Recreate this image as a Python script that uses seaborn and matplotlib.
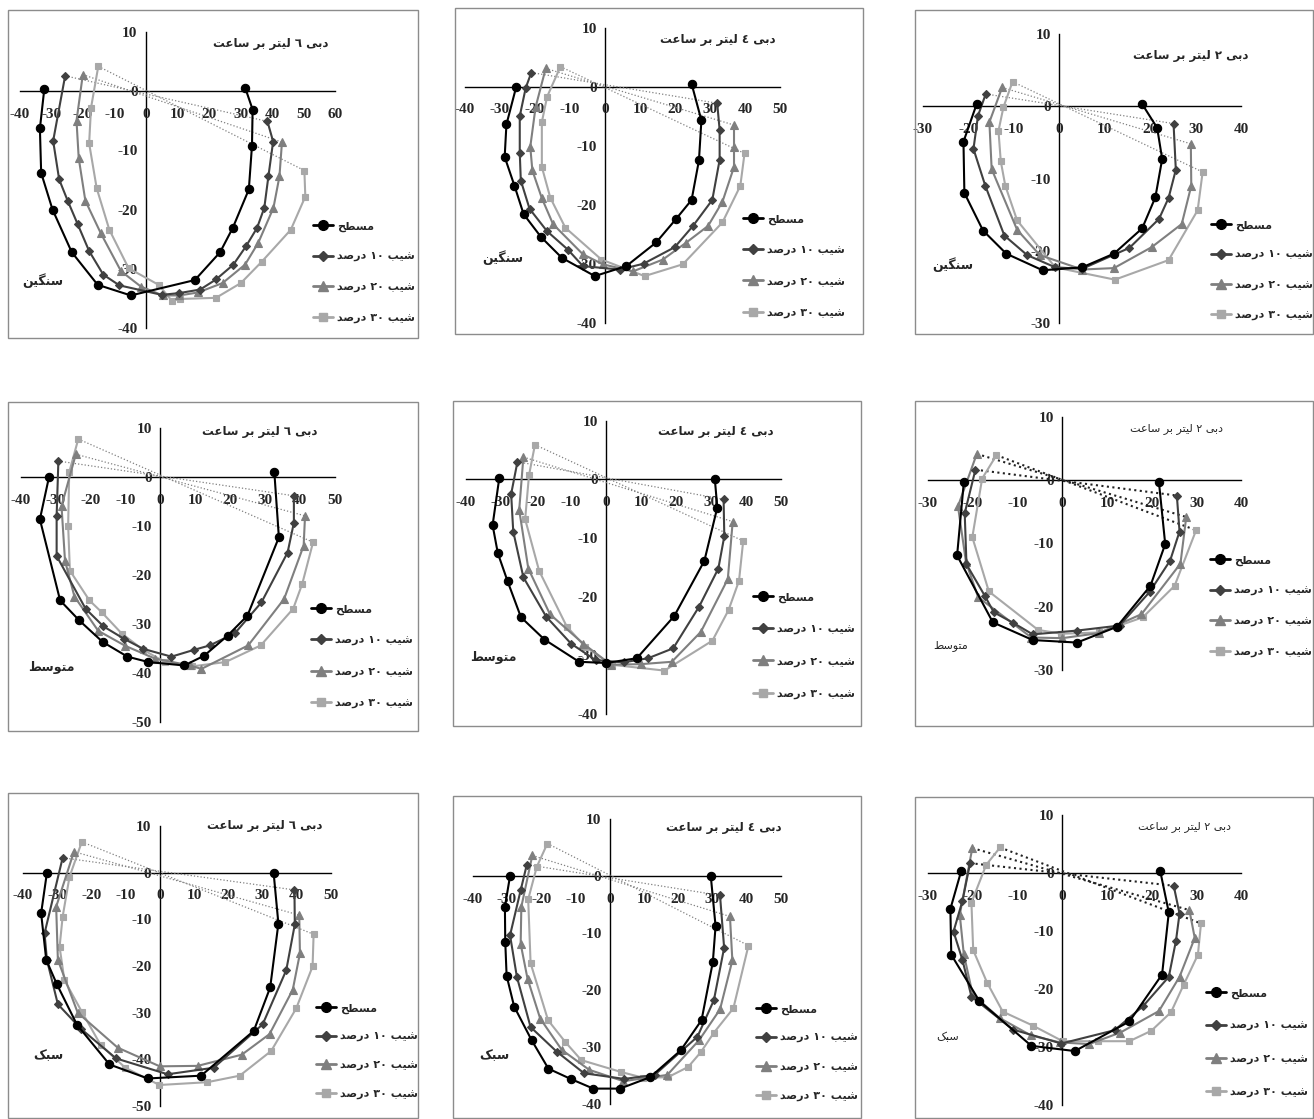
import matplotlib
matplotlib.use('Agg')
import matplotlib.pyplot as plt
from matplotlib.lines import Line2D
from matplotlib.patches import Rectangle
import seaborn as sns

# wetting front profiles (x, depth), cm
# heavy soil (سنگین)
heavy6_flat = [(-32.2, 0.4), (-33.6, -6.3), (-33.2, -13.8), (-29.6, -20.0), (-23.5, -27.2), (-15.3, -32.7), (-4.8, -34.5),
               (15.5, -31.9), (23.5, -27.2), (27.5, -23.1), (32.6, -16.6), (33.6, -9.2), (33.8, -3.1), (31.5, 0.5)]
heavy6_s10 = [(-25.6, 2.6), (-29.4, -8.4), (-27.5, -14.9), (-24.8, -18.5), (-21.6, -22.5), (-18.0, -27.0), (-13.5, -31.0),
              (-8.4, -32.8), (5.0, -34.4), (10.6, -34.1), (17.2, -33.5), (22.2, -31.8), (27.7, -29.3), (31.7, -26.2),
              (35.2, -23.1), (37.5, -19.7), (38.8, -14.4), (40.3, -8.5), (38.5, -5.1)]
heavy6_s20 = [(-20.0, 2.8), (-22.0, -5.0), (-21.3, -11.3), (-19.2, -18.5), (-14.3, -24.0), (-7.9, -30.4), (-1.6, -33.0),
              (5.3, -34.5), (10.6, -34.5), (16.5, -34.0), (24.3, -32.4), (31.4, -29.3), (35.6, -25.6), (40.4, -19.7),
              (42.3, -14.4), (43.1, -8.6)]
heavy6_s30 = [(-15.1, 4.2), (-17.4, -2.8), (-18.0, -8.8), (-15.6, -16.4), (-11.6, -23.4), (-5.5, -29.9), (4.0, -32.7),
              (8.2, -35.4), (10.9, -35.1), (22.2, -34.9), (30.1, -32.4), (36.7, -28.8), (45.9, -23.4), (50.5, -17.8),
              (50.2, -13.4)]

heavy4_flat = [(-25.3, 0.0), (-28.1, -6.4), (-28.6, -11.9), (-25.8, -16.8), (-23.2, -21.6), (-18.2, -25.5), (-12.3, -29.0),
               (-2.9, -32.1), (6.1, -30.4), (14.6, -26.4), (20.3, -22.4), (24.7, -19.2), (26.8, -12.5), (27.5, -5.7),
               (24.7, 0.5)]
heavy4_s10 = [(-21.0, 2.4), (-22.6, -0.2), (-24.3, -5.0), (-24.3, -11.2), (-24.0, -15.9), (-21.5, -20.7), (-16.5, -24.5),
              (-10.6, -27.6), (-6.3, -30.4), (4.2, -31.0), (11.0, -30.0), (19.9, -27.2), (25.1, -23.6), (30.6, -19.2),
              (32.7, -12.4), (32.7, -7.3), (32.0, -2.8)]
heavy4_s20 = [(-16.9, 3.1), (-19.8, -3.5), (-21.3, -10.2), (-20.7, -14.2), (-18.0, -18.9), (-14.8, -23.3), (-6.3, -28.4),
              (-0.6, -30.1), (8.0, -31.3), (16.5, -29.3), (23.0, -26.5), (29.4, -23.6), (33.5, -19.5), (36.8, -13.6),
              (36.8, -10.2), (36.8, -6.5)]
heavy4_s30 = [(-12.7, 3.4), (-16.5, -1.7), (-18.0, -6.0), (-18.0, -13.6), (-15.6, -18.8), (-11.3, -23.9), (-1.0, -29.3),
              (11.3, -32.1), (22.2, -30.1), (33.5, -23.0), (38.6, -16.8), (39.8, -11.3)]

heavy2_flat = [(-18.2, 0.3), (-21.1, -4.9), (-20.9, -12.0), (-16.8, -17.2), (-11.7, -20.4), (-3.7, -22.7), (5.0, -22.3),
               (12.0, -20.4), (18.2, -16.9), (21.1, -12.6), (22.6, -7.3), (21.5, -3.0), (18.2, 0.3)]
heavy2_s10 = [(-16.2, 1.7), (-17.9, -1.3), (-18.9, -5.9), (-16.3, -11.0), (-12.1, -17.9), (-7.1, -20.6), (-0.9, -22.3),
              (5.0, -22.5), (15.4, -19.6), (21.9, -15.6), (24.0, -12.7), (25.6, -8.8), (25.1, -2.4)]
heavy2_s20 = [(-12.6, 2.6), (-15.4, -2.2), (-14.9, -8.7), (-9.3, -17.1), (-4.3, -20.6), (5.0, -22.6), (12.0, -22.4),
              (20.3, -19.5), (26.9, -16.3), (29.0, -11.0), (28.9, -5.2)]
heavy2_s30 = [(-10.3, 3.4), (-12.3, -0.1), (-13.4, -3.4), (-12.9, -7.6), (-11.9, -11.0), (-9.3, -15.8), (-0.9, -22.3),
              (12.2, -24.0), (24.0, -21.3), (30.4, -14.4), (31.5, -9.1)]

# medium soil (متوسط)
medium6_flat = [(-31.9, 0.0), (-34.5, -8.6), (-28.7, -25.2), (-23.2, -29.3), (-16.5, -33.7), (-9.4, -36.7), (-3.4, -37.8),
                (6.9, -38.5), (12.6, -36.5), (19.3, -32.4), (25.0, -28.3), (34.0, -12.3), (32.7, 1.0)]
medium6_s10 = [(-29.2, 3.3), (-29.7, -7.9), (-29.7, -16.1), (-21.4, -26.9), (-16.3, -30.5), (-10.5, -33.0), (-4.9, -35.1),
               (3.2, -36.7), (9.7, -35.3), (14.2, -34.4), (21.4, -31.9), (29.0, -25.6), (36.5, -15.4), (38.3, -9.3),
               (38.3, -3.8)]
medium6_s20 = [(-24.2, 4.7), (-28.3, -5.9), (-27.3, -17.1), (-24.6, -24.4), (-17.8, -31.4), (-10.0, -34.5), (-1.5, -37.1),
               (8.5, -38.5), (11.8, -39.2), (25.2, -34.4), (35.5, -24.9), (41.1, -14.0), (41.5, -7.9)]
medium6_s30 = [(-23.5, 7.8), (-26.1, 1.0), (-26.4, -9.9), (-25.9, -19.1), (-20.3, -25.2), (-16.8, -27.6), (-11.0, -32.0),
               (-4.9, -35.3), (1.3, -37.8), (9.0, -38.7), (18.7, -37.8), (28.8, -34.4), (38.1, -26.9), (40.7, -21.8),
               (43.8, -13.3)]

medium4_flat = [(-30.5, 0.2), (-32.4, -7.8), (-30.9, -12.6), (-28.1, -17.4), (-24.3, -23.5), (-17.6, -27.3), (-7.7, -31.1),
                (0.0, -31.3), (8.8, -30.5), (19.5, -23.3), (28.1, -13.9), (31.8, -4.8), (31.1, 0.0)]
medium4_s10 = [(-25.3, 3.0), (-27.1, -2.5), (-26.5, -8.9), (-23.6, -16.7), (-17.1, -23.4), (-10.0, -28.0), (-3.0, -30.8),
               (5.0, -31.2), (12.0, -30.5), (19.2, -28.8), (26.6, -21.7), (32.1, -15.2), (33.8, -9.7), (33.6, -3.4)]
medium4_s20 = [(-23.6, 3.8), (-24.8, -5.2), (-22.2, -15.2), (-16.0, -23.0), (-6.5, -28.0), (1.4, -31.6), (10.0, -31.5),
               (18.8, -31.1), (27.1, -26.0), (34.8, -17.0), (36.2, -7.2)]
medium4_s30 = [(-20.3, 5.9), (-22.0, 0.7), (-23.1, -6.8), (-19.1, -15.6), (-11.2, -25.1), (-6.0, -28.5), (1.6, -31.6),
               (16.7, -32.6), (30.4, -27.5), (35.0, -22.3), (38.0, -17.3), (39.2, -10.5)]

medium2_flat = [(-22.0, -0.3), (-23.5, -11.9), (-15.5, -22.5), (-6.6, -25.3), (3.3, -25.7), (12.2, -23.2), (19.7, -16.7),
                (23.0, -10.1), (21.6, -0.3)]
medium2_s10 = [(-19.4, 1.7), (-21.8, -5.2), (-21.4, -13.3), (-17.3, -18.3), (-15.3, -20.9), (-10.9, -22.6), (-6.6, -24.4),
               (3.3, -23.8), (12.8, -23.0), (19.5, -17.7), (24.1, -12.7), (26.2, -8.1), (25.6, -2.4)]
medium2_s20 = [(-19.1, 4.2), (-23.3, -4.1), (-21.5, -13.0), (-18.8, -18.5), (-6.9, -24.9), (0.0, -25.0), (8.2, -24.2),
               (17.7, -21.2), (26.4, -13.2), (27.7, -5.8)]
medium2_s30 = [(-14.7, 4.0), (-17.9, 0.3), (-20.1, -9.0), (-16.4, -17.6), (-5.4, -23.7), (-0.2, -24.3), (8.3, -24.1),
               (18.0, -21.7), (25.1, -16.7), (29.9, -7.9)]

# light soil (سبک)
light6_flat = [(-33.0, 0.0), (-34.7, -8.7), (-33.2, -18.7), (-30.1, -23.9), (-24.2, -32.6), (-14.7, -41.1), (-3.5, -44.1),
               (12.1, -43.5), (27.5, -33.9), (32.3, -24.6), (34.7, -10.9), (33.3, 0.0)]
light6_s10 = [(-28.4, 3.2), (-33.7, -13.0), (-33.0, -18.7), (-29.8, -28.2), (-23.0, -33.5), (-12.8, -39.8), (2.3, -43.2),
              (15.8, -41.8), (30.1, -32.5), (37.0, -20.9), (39.5, -11.1), (39.4, -3.7)]
light6_s20 = [(-25.1, 4.5), (-30.3, -7.3), (-29.8, -18.7), (-24.0, -30.0), (-12.3, -37.5), (0.0, -41.5), (11.1, -41.4),
              (24.0, -39.0), (32.1, -34.6), (38.9, -25.1), (41.0, -17.3), (40.8, -9.1)]
light6_s30 = [(-22.8, 6.6), (-26.4, -0.9), (-28.4, -9.4), (-29.3, -15.9), (-27.9, -23.0), (-22.8, -29.8), (-17.3, -36.9),
              (-10.1, -41.8), (-0.1, -45.5), (13.9, -44.9), (23.4, -43.5), (32.6, -38.2), (39.9, -29.1), (44.7, -20.1),
              (45.0, -13.2)]

light4_flat = [(-29.1, 0.0), (-30.6, -5.4), (-30.5, -11.5), (-30.1, -17.5), (-27.9, -22.9), (-22.8, -28.8), (-17.9, -33.8),
               (-11.4, -35.6), (-4.8, -37.3), (3.0, -37.3), (11.8, -35.3), (20.7, -30.6), (26.8, -25.3), (30.1, -15.1),
               (30.9, -8.8), (29.5, 0.0)]
light4_s10 = [(-24.2, 2.0), (-26.0, -2.5), (-29.1, -10.4), (-27.1, -17.7), (-23.1, -26.5), (-15.5, -30.8), (-7.5, -34.6),
              (4.2, -35.6), (13.1, -34.9), (25.6, -28.2), (30.4, -21.8), (33.4, -12.6), (32.2, -3.4)]
light4_s20 = [(-22.6, 3.6), (-25.8, -5.4), (-26.0, -11.9), (-24.0, -18.0), (-20.3, -25.0), (-14.0, -30.5), (-6.0, -34.0),
              (4.0, -36.0), (16.8, -34.9), (26.1, -28.8), (32.2, -23.4), (35.8, -14.8), (35.1, -7.1)]
light4_s30 = [(-18.2, 5.7), (-21.3, 1.6), (-23.8, -4.1), (-23.1, -15.3), (-18.0, -25.3), (-13.0, -29.1), (-8.3, -32.3),
              (3.4, -34.4), (9.8, -35.4), (17.0, -35.3), (22.9, -33.5), (26.6, -30.9), (30.4, -27.5), (36.1, -23.2),
              (40.5, -12.2)]

light2_flat = [(-22.6, 0.3), (-25.0, -6.2), (-24.8, -14.1), (-18.5, -22.1), (-6.9, -29.8), (2.8, -30.7), (15.0, -25.6),
               (22.3, -17.5), (23.8, -6.8), (21.9, 0.3)]
light2_s10 = [(-20.6, 1.7), (-22.3, -4.8), (-24.3, -10.1), (-22.3, -15.0), (-20.3, -21.3), (-11.0, -27.0), (-0.2, -29.4),
              (11.7, -27.1), (18.0, -23.0), (23.8, -17.9), (25.4, -11.7), (26.2, -7.0), (24.9, -2.2)]
light2_s20 = [(-20.1, 4.3), (-22.9, -7.2), (-22.0, -14.0), (-20.0, -21.0), (-14.0, -25.0), (-7.0, -28.0), (-0.6, -29.2),
              (6.0, -29.5), (13.0, -27.5), (21.6, -23.8), (26.2, -17.9), (29.6, -11.2), (28.4, -6.4)]
light2_s30 = [(-13.9, 4.4), (-17.0, 1.4), (-20.3, -5.1), (-19.9, -13.3), (-16.8, -18.9), (-13.3, -23.9), (-6.6, -26.3),
              (0.1, -29.0), (8.0, -29.0), (15.0, -29.0), (19.9, -27.2), (24.3, -24.0), (27.1, -19.3), (30.3, -14.1),
              (31.0, -8.7)]

series_labels = ['مسطح', 'شیب ۱۰ درصد', 'شیب ۲۰ درصد', 'شیب ۳۰ درصد']
rate_digits = ['٦', '٤', '۲']
soil_names = ['سنگین', 'متوسط', 'سبک']

# --- minimal arabic shaping so matplotlib shows joined right-to-left text
FORMS = {
    'ا': ('\uFE8D', '\uFE8E', None, None),
    'ب': ('\uFE8F', '\uFE90', '\uFE91', '\uFE92'),
    'ت': ('\uFE95', '\uFE96', '\uFE97', '\uFE98'),
    'ح': ('\uFEA1', '\uFEA2', '\uFEA3', '\uFEA4'),
    'د': ('\uFEA9', '\uFEAA', None, None),
    'ر': ('\uFEAD', '\uFEAE', None, None),
    'س': ('\uFEB1', '\uFEB2', '\uFEB3', '\uFEB4'),
    'ش': ('\uFEB5', '\uFEB6', '\uFEB7', '\uFEB8'),
    'ص': ('\uFEB9', '\uFEBA', '\uFEBB', '\uFEBC'),
    'ط': ('\uFEC1', '\uFEC2', '\uFEC3', '\uFEC4'),
    'ع': ('\uFEC9', '\uFECA', '\uFECB', '\uFECC'),
    'ل': ('\uFEDD', '\uFEDE', '\uFEDF', '\uFEE0'),
    'م': ('\uFEE1', '\uFEE2', '\uFEE3', '\uFEE4'),
    'ن': ('\uFEE5', '\uFEE6', '\uFEE7', '\uFEE8'),
    'و': ('\uFEED', '\uFEEE', None, None),
    'ی': ('\uFBFC', '\uFBFD', '\uFBFE', '\uFBFF'),
    'ک': ('\uFB8E', '\uFB8F', '\uFB90', '\uFB91'),
    'گ': ('\uFB92', '\uFB93', '\uFB94', '\uFB95'),
}
DIGITS = set('0123456789٠١٢٣٤٥٦٧٨٩۰۱۲۳۴۵۶۷۸۹')


def shape(text):
    out = []
    for i, ch in enumerate(text):
        if ch not in FORMS:
            out.append(ch)
            continue
        prev = text[i - 1] if i > 0 else ''
        nxt = text[i + 1] if i + 1 < len(text) else ''
        jp = prev in FORMS and FORMS[prev][2] is not None
        jn = nxt in FORMS and FORMS[ch][2] is not None
        iso, fin, ini, med = FORMS[ch]
        out.append(med if jp and jn else fin if jp else ini if jn else iso)
    return ''.join(out)


def rtl(text):
    tokens = []
    for ch in shape(text):
        if ch in DIGITS and tokens and tokens[-1][-1] in DIGITS:
            tokens[-1] += ch
        else:
            tokens.append(ch)
    return ''.join(reversed(tokens))


sns.set_style('white')
plt.rcParams['font.family'] = ['Liberation Serif', 'DejaVu Sans']
plt.rcParams['font.weight'] = 'bold'
plt.rcParams['axes.unicode_minus'] = False

W, H = 1314, 1119
fig = plt.figure(figsize=(W / 100, H / 100), dpi=100)

colors = ['#000000', '#404040', '#7f7f7f', '#a8a8a8']
markers = ['o', 'D', '^', 's']
msizes = [6, 4.5, 6, 5]
AR = ['DejaVu Sans']

# layout in pixels: box, axes (left, right, top, bottom), limits, title, soil label, legend (x, first row, last row)
layout = [
    dict(box=(8, 10, 418, 338), ax=(19.7, 335.3, 32, 328), xlim=(-40, 60), ylim=(-40, 10),
         title=(271, 43), soil=(43, 281), leg=(313, 221, 323)),
    dict(box=(455, 8, 863, 334), ax=(464.7, 780.3, 27.7, 322.7), xlim=(-40, 50), ylim=(-40, 10),
         title=(718, 39), soil=(503, 258), leg=(743, 214, 318)),
    dict(box=(915, 10, 1313, 334), ax=(923, 1241.3, 34, 323), xlim=(-30, 40), ylim=(-30, 10),
         title=(1191, 55), soil=(953, 265), leg=(1211, 220, 320)),
    dict(box=(8, 402, 418, 731), ax=(20.7, 334.7, 428.3, 721.7), xlim=(-40, 50), ylim=(-50, 10),
         title=(260, 432), soil=(51, 667), leg=(311, 604, 708)),
    dict(box=(453, 401, 861, 726), ax=(466, 781, 420.7, 714), xlim=(-40, 50), ylim=(-40, 10),
         title=(716, 432), soil=(493, 657), leg=(753, 592, 699)),
    dict(box=(915, 401, 1313, 726), ax=(928, 1241.3, 417.3, 669.7), xlim=(-30, 40), ylim=(-30, 10),
         title=(1176, 429), soil=(951, 646), leg=(1210, 555, 657), light=True),
    dict(box=(8, 793, 418, 1118), ax=(23, 330.7, 826, 1106), xlim=(-40, 50), ylim=(-50, 10),
         title=(265, 826), soil=(48, 1056), leg=(316, 1003, 1099)),
    dict(box=(453, 796, 861, 1118), ax=(472.7, 781, 819, 1104), xlim=(-40, 50), ylim=(-40, 10),
         title=(724, 827), soil=(494, 1056), leg=(756, 1004, 1101)),
    dict(box=(915, 797, 1313, 1118), ax=(928, 1241.3, 815, 1105), xlim=(-30, 40), ylim=(-40, 10),
         title=(1185, 827), soil=(948, 1037), leg=(1206, 988, 1097), light=True),
]

panel_series = [
    [heavy6_flat, heavy6_s10, heavy6_s20, heavy6_s30],
    [heavy4_flat, heavy4_s10, heavy4_s20, heavy4_s30],
    [heavy2_flat, heavy2_s10, heavy2_s20, heavy2_s30],
    [medium6_flat, medium6_s10, medium6_s20, medium6_s30],
    [medium4_flat, medium4_s10, medium4_s20, medium4_s30],
    [medium2_flat, medium2_s10, medium2_s20, medium2_s30],
    [light6_flat, light6_s10, light6_s20, light6_s30],
    [light4_flat, light4_s10, light4_s20, light4_s30],
    [light2_flat, light2_s10, light2_s20, light2_s30],
]


def fx(x):
    return x / W


def fy(y):
    return 1 - y / H


for k, (cfg, series) in enumerate(zip(layout, panel_series)):
    soil = soil_names[k // 3]
    rate = rate_digits[k % 3]
    light = cfg.get('light', False)

    x0, y0, x1, y1 = cfg['box']
    fig.add_artist(Rectangle((fx(x0), fy(y1)), fx(x1 - x0), (y1 - y0) / H, transform=fig.transFigure,
                             fill=False, edgecolor='#8c8c8c', linewidth=1.0))

    l, r, t, b = cfg['ax']
    ax = fig.add_axes([fx(l), fy(b), fx(r - l), (b - t) / H])
    ax.patch.set_alpha(0)

    for i, pts in enumerate(series):
        xs = [p[0] for p in pts]
        ys = [p[1] for p in pts]
        if i > 0:
            # ground surface line for the sloped cases
            ax.plot([xs[0], xs[-1]], [ys[0], ys[-1]], ls=':',
                    color='#222222' if light else '#808080', lw=1.5 if light else 0.9, zorder=1)
        sns.lineplot(x=xs, y=ys, sort=False, estimator=None, color=colors[i], marker=markers[i],
                     markersize=msizes[i], markeredgecolor=colors[i], markeredgewidth=0.8,
                     linewidth=1.5, ax=ax, legend=False, zorder=3 + (3 - i))

    ax.set_xlim(*cfg['xlim'])
    ax.set_ylim(*cfg['ylim'])
    ax.set_xticks(range(cfg['xlim'][0], cfg['xlim'][1] + 1, 10))
    ax.set_yticks(range(cfg['ylim'][0], cfg['ylim'][1] + 1, 10))
    ax.spines['left'].set_position(('data', 0))
    ax.spines['bottom'].set_position(('data', 0))
    for s in ['top', 'right']:
        ax.spines[s].set_visible(False)
    for s in ['left', 'bottom']:
        ax.spines[s].set_color('black')
        ax.spines[s].set_linewidth(1.0)
        ax.spines[s].set_zorder(0.5)
    ax.tick_params(axis='x', length=0, pad=12, labelsize=11)
    ax.tick_params(axis='y', length=0, pad=6, labelsize=11)
    ax.grid(False)
    ax.set_xlabel('')
    ax.set_ylabel('')

    fig.text(fx(cfg['title'][0]), fy(cfg['title'][1]), rtl('دبی %s لیتر بر ساعت' % rate),
             family=AR, fontsize=8 if light else 8.5, fontweight='normal' if light else 'bold',
             ha='center', va='center')
    fig.text(fx(cfg['soil'][0]), fy(cfg['soil'][1]), rtl(soil), family=AR,
             fontsize=8 if light else 9, fontweight='normal' if light else 'bold', ha='center', va='center')

    handles = [Line2D([], [], color=colors[i], marker=markers[i], markersize=msizes[i] + 1,
                      markeredgecolor=colors[i], linewidth=2) for i in range(4)]
    lx, ly0, ly1 = cfg['leg']
    fs = 8
    step = (ly1 - ly0) / 3
    fpx = fs * 100 / 72
    ax.legend(handles, [rtl(s) for s in series_labels], loc='center left',
              bbox_to_anchor=(fx(lx), fy((ly0 + ly1) / 2)), bbox_transform=fig.transFigure,
              frameon=False, borderpad=0, borderaxespad=0, handlelength=1.8, handletextpad=0.4,
              labelspacing=(step - fpx * 1.25) / fpx, prop={'family': AR, 'weight': 'bold', 'size': fs})

fig.savefig('out.png', dpi=100, facecolor='white')
